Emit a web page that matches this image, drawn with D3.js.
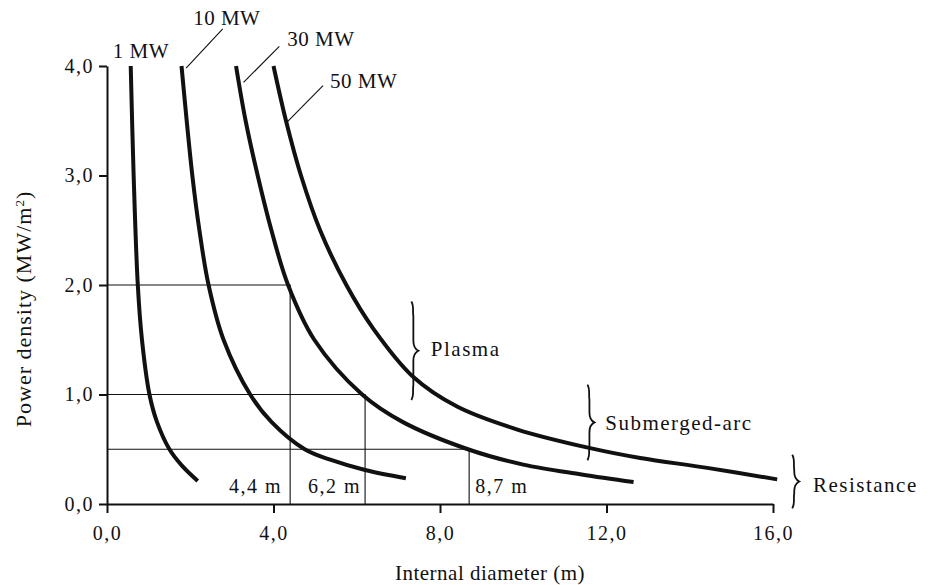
<!DOCTYPE html>
<html>
<head>
<meta charset="utf-8">
<script src="https://cdn.jsdelivr.net/npm/d3@7"></script>
<style>
  body { margin: 0; background: #fff; }
  svg text { font-family: "Liberation Serif", "Times New Roman", serif; fill: #111; }
  .curve { fill: none; stroke: #111; stroke-width: 4; stroke-linecap: butt; }
  .guide { fill: none; stroke: #111; stroke-width: 1.1; }
  .axis path, .axis line { stroke: #111; stroke-width: 2; }
  .axis text { font-size: 20px; letter-spacing: 1.5px; }
  .brace { fill: none; stroke: #111; stroke-width: 1.8; }
</style>
</head>
<body>
<svg id="chart" width="932" height="585"></svg>
<script>
// power density curves: [diameter (m), density (MW/m2)]
var series = ["1 MW", "10 MW", "30 MW", "50 MW"];
var curve1 = [[0.57,4.0],[0.64,3.0],[0.74,2.0],[0.84,1.5],[1.02,1.0],[1.2,0.75],[1.5,0.5],[1.8,0.35],[2.18,0.21]];
var curve10 = [[1.79,4.0],[2.05,3.0],[2.22,2.5],[2.44,2.0],[2.8,1.5],[3.44,1.0],[3.95,0.75],[4.75,0.5],[5.4,0.4],[6.2,0.31],[7.18,0.235]];
var curve30 = [[3.10,4.0],[3.33,3.5],[3.62,3.0],[3.95,2.5],[4.35,2.0],[4.98,1.5],[6.13,1.0],[7.1,0.75],[8.67,0.5],[10.0,0.36],[11.4,0.27],[12.65,0.20]];
var curve50 = [[4.0,4.0],[4.3,3.5],[4.66,3.0],[5.12,2.5],[5.75,2.0],[6.4,1.6],[7.36,1.16],[8.41,0.89],[9.86,0.68],[11.61,0.51],[12.81,0.42],[14.42,0.33],[16.1,0.225]];
var curves = [curve1, curve10, curve30, curve50];

// series labels and their leader lines
var labelPos = [[0.14,4.07],[2.07,4.37],[4.33,4.18],[5.36,3.80]];
var leaders = [null, [[2.78,4.34],[1.90,3.98]], [[4.14,4.18],[3.28,3.85]], [[5.19,3.82],[4.33,3.49]]];

// 30 MW reading lines
var markD = [4.4, 6.2, 8.7];
var markP = [2.0, 1.0, 0.5];
var markText = ["4,4 m", "6,2 m", "8,7 m"];

// furnace type ranges
var regions = ["Plasma", "Submerged-arc", "Resistance"];
var braceX = [7.36, 11.59, 16.51];
var braceTop = [1.85, 1.09, 0.45];
var braceBottom = [0.95, 0.40, -0.04];
var regionLabelPos = [[7.78,1.35],[11.97,0.68],[16.96,0.11]];

var xTicks = [0, 4, 8, 12, 16];
var xTickLabels = ["0,0", "4,0", "8,0", "12,0", "16,0"];
var yTicks = [0, 1, 2, 3, 4];
var yTickLabels = ["0,0", "1,0", "2,0", "3,0", "4,0"];

var svg = d3.select("#chart");
var x = d3.scaleLinear().domain([0, 16]).range([107, 773]);
var y = d3.scaleLinear().domain([0, 4]).range([504, 66]);

// axes
svg.append("g").attr("class", "axis")
  .attr("transform", "translate(0," + y(0) + ")")
  .call(d3.axisBottom(x).tickValues(xTicks).tickSize(9).tickSizeOuter(0)
    .tickFormat(function(d, i) { return xTickLabels[i]; }))
  .call(function(g) { g.selectAll("text").attr("dy", "1.2em"); });

svg.append("g").attr("class", "axis")
  .attr("transform", "translate(" + x(0) + ",0)")
  .call(d3.axisLeft(y).tickValues(yTicks).tickSize(8).tickSizeOuter(0)
    .tickFormat(function(d, i) { return yTickLabels[i]; }))
  .call(function(g) { g.selectAll("text").attr("x", -13); });

svg.selectAll(".axis .domain").attr("fill", "none");

// reading lines
markD.forEach(function(d, i) {
  svg.append("path").attr("class", "guide")
    .attr("d", "M" + x(0) + "," + y(markP[i]) + "H" + x(d) + "V" + y(0));
});
svg.selectAll(".mark-label").data(markText).enter().append("text")
  .attr("class", "mark-label")
  .attr("x", function(d, i) { return i == 2 ? x(markD[i]) + 6 : x(markD[i]) - (i == 0 ? 8 : 4); })
  .attr("y", y(0) - 11)
  .attr("text-anchor", function(d, i) { return i == 2 ? "start" : "end"; })
  .style("font-size", "20px")
  .style("letter-spacing", "1.5px")
  .text(function(d) { return d; });

// curves
var line = d3.line()
  .x(function(d) { return x(d[0]); })
  .y(function(d) { return y(d[1]); })
  .curve(d3.curveCatmullRom.alpha(0.5));

svg.selectAll(".curve").data(curves).enter().append("path")
  .attr("class", "curve")
  .attr("d", line);

// series labels
svg.selectAll(".series-label").data(series).enter().append("text")
  .attr("class", "series-label")
  .attr("x", function(d, i) { return x(labelPos[i][0]); })
  .attr("y", function(d, i) { return y(labelPos[i][1]); })
  .style("font-size", "21px")
  .style("letter-spacing", "0.5px")
  .text(function(d) { return d; });

leaders.forEach(function(l) {
  if (!l) return;
  svg.append("line").attr("class", "guide")
    .attr("x1", x(l[0][0])).attr("y1", y(l[0][1]))
    .attr("x2", x(l[1][0])).attr("y2", y(l[1][1]));
});

// braces
function brace(bx, y0, y1) {
  var ym = (y0 + y1) / 2, q = 5;
  return "M" + (bx - 2) + "," + y0 +
    " C" + (bx + 1) + "," + (y0 + q) + " " + (bx - 1) + "," + (y0 + 2 * q) + " " + bx + "," + (y0 + 3 * q) +
    " L" + bx + "," + (ym - 2 * q) +
    " C" + bx + "," + (ym - q) + " " + (bx + 1) + "," + (ym - 2) + " " + (bx + 5) + "," + ym +
    " C" + (bx + 1) + "," + (ym + 2) + " " + bx + "," + (ym + q) + " " + bx + "," + (ym + 2 * q) +
    " L" + bx + "," + (y1 - 3 * q) +
    " C" + (bx - 1) + "," + (y1 - 2 * q) + " " + (bx + 1) + "," + (y1 - q) + " " + (bx - 2) + "," + y1;
}
regions.forEach(function(r, i) {
  svg.append("path").attr("class", "brace")
    .attr("d", brace(x(braceX[i]), y(braceTop[i]), y(braceBottom[i])));
});
svg.selectAll(".region-label").data(regions).enter().append("text")
  .attr("class", "region-label")
  .attr("x", function(d, i) { return x(regionLabelPos[i][0]); })
  .attr("y", function(d, i) { return y(regionLabelPos[i][1]); })
  .style("font-size", "21px")
  .style("letter-spacing", "1.5px")
  .text(function(d) { return d; });

// axis titles
svg.append("text")
  .attr("x", 490).attr("y", 580)
  .attr("text-anchor", "middle")
  .style("font-size", "21px")
  .style("letter-spacing", "0.5px")
  .text("Internal diameter (m)");

var yt = svg.append("text")
  .attr("transform", "translate(31,309) rotate(-90)")
  .attr("text-anchor", "middle")
  .style("font-size", "22px")
  .style("letter-spacing", "1px");
yt.append("tspan").text("Power density (MW/m");
yt.append("tspan").attr("baseline-shift", "super").style("font-size", "13px").text("2");
yt.append("tspan").text(")");
</script>
</body>
</html>
